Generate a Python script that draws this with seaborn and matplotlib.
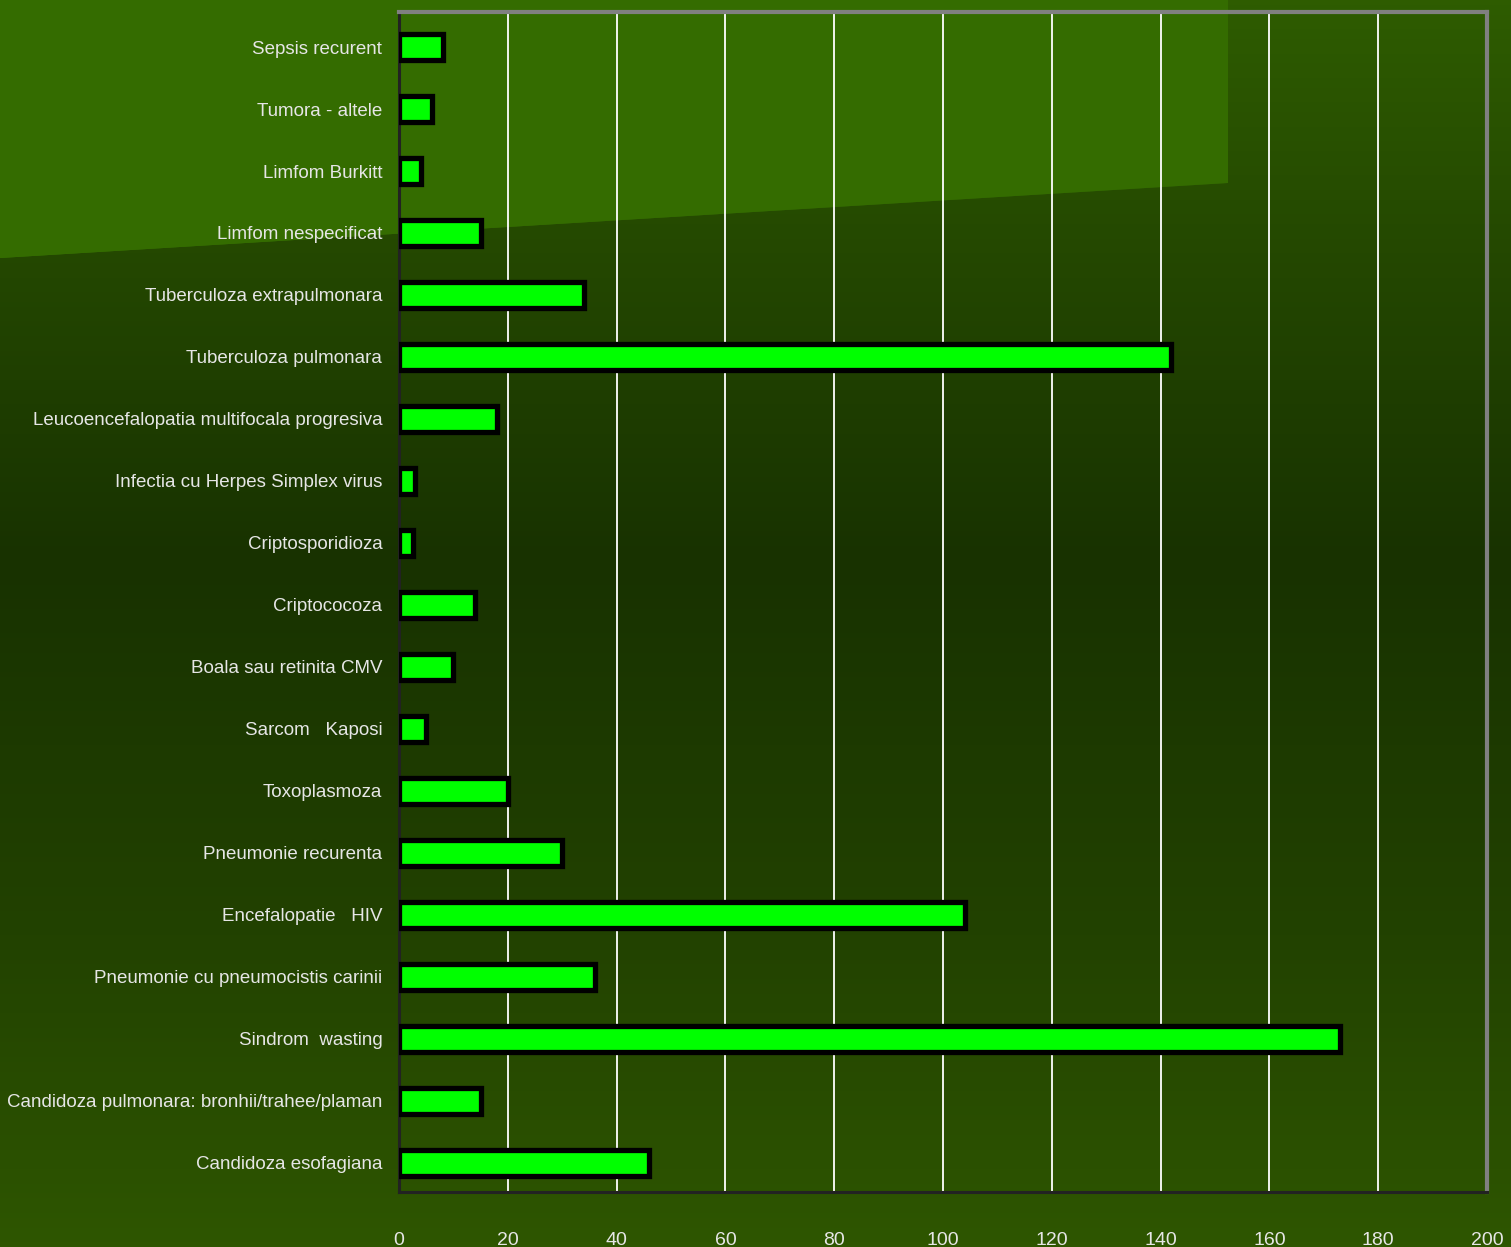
import matplotlib
matplotlib.use('Agg')
import matplotlib.pyplot as plt
from matplotlib import font_manager
from matplotlib.colors import LinearSegmentedColormap
from matplotlib.patches import Polygon
import seaborn as sns
import numpy as np
import pandas as pd

categories = [
    'Sepsis recurent',
    'Tumora - altele',
    'Limfom Burkitt',
    'Limfom nespecificat',
    'Tuberculoza extrapulmonara',
    'Tuberculoza pulmonara',
    'Leucoencefalopatia multifocala progresiva',
    'Infectia cu Herpes Simplex virus',
    'Criptosporidioza',
    'Criptococoza',
    'Boala sau retinita CMV',
    'Sarcom   Kaposi',
    'Toxoplasmoza',
    'Pneumonie recurenta',
    'Encefalopatie   HIV',
    'Pneumonie cu pneumocistis carinii',
    'Sindrom  wasting',
    'Candidoza pulmonara: bronhii/trahee/plaman',
    'Candidoza esofagiana',
]
cases = [8, 6, 4, 15, 34, 142, 18, 3, 2.5, 14, 10, 5, 20, 30, 104, 36, 173, 15, 46]
x_ticks = [0, 20, 40, 60, 80, 100, 120, 140, 160, 180, 200]

df = pd.DataFrame({'boala': categories, 'cazuri': cases})

sns.set_theme(style='white')
available = {f.name for f in font_manager.fontManager.ttflist}
family = 'Liberation Sans Narrow' if 'Liberation Sans Narrow' in available else 'Liberation Sans'
plt.rcParams['font.family'] = [family, 'DejaVu Sans']

W, H = 1511, 1247
fig = plt.figure(figsize=(W / 100, H / 100), dpi=100)

# background gradient
bg = fig.add_axes([0, 0, 1, 1], zorder=-10)
cmap = LinearSegmentedColormap.from_list('bg', [
    (0.0, '#2e5c00'), (0.2, '#244800'), (0.45, '#183200'),
    (0.75, '#224200'), (1.0, '#2e5600')])
grad = np.linspace(0, 1, 256).reshape(-1, 1)
bg.imshow(grad, aspect='auto', cmap=cmap, extent=[0, W, H, 0])
# brighter band at the top left
xx = np.linspace(0, 1, 256).reshape(1, -1)
poly = Polygon([[0, 0], [1228, 0], [1228, 183], [0, 258]], closed=True,
               facecolor='#346c00', edgecolor='none')
bg.add_patch(poly)
top_grad = bg.imshow(np.repeat(xx, 2, axis=0), aspect='auto',
                     cmap=LinearSegmentedColormap.from_list('tl2', ['#387400', '#2f6000']),
                     extent=[0, 1228, 258, 0])
top_grad.set_clip_path(poly)
bg.set_xlim(0, W)
bg.set_ylim(H, 0)
bg.axis('off')

ax = fig.add_axes([399 / W, 1 - 1192 / H, (1487 - 399) / W, (1192 - 12) / H])
ax.patch.set_alpha(0)

sns.barplot(data=df, x='cazuri', y='boala', orient='h', ax=ax,
            color='#00ff00', saturation=1, width=0.42,
            edgecolor='black', linewidth=3.8, zorder=3)

ax.set_xlim(0, 200)
ax.set_ylim(len(categories) - 1 + 0.47, -0.565)
ax.set_xticks(x_ticks)
for v in x_ticks[1:-1]:
    ax.axvline(v, color='white', lw=1.3, zorder=1)

ax.set_xlabel('')
ax.set_ylabel('')
ax.tick_params(axis='x', colors='black', length=5, width=2, direction='out',
               pad=24, labelsize=14, labelcolor='#e6e6e6')
ax.tick_params(axis='y', length=0, pad=12, labelsize=13.5, labelcolor='#e6e6e6')

for side in ['top', 'right']:
    ax.spines[side].set_color('#808080')
    ax.spines[side].set_linewidth(3)
for side in ['left', 'bottom']:
    ax.spines[side].set_color('#222222')
    ax.spines[side].set_linewidth(2.2)

fig.savefig('out.png', dpi=100)
